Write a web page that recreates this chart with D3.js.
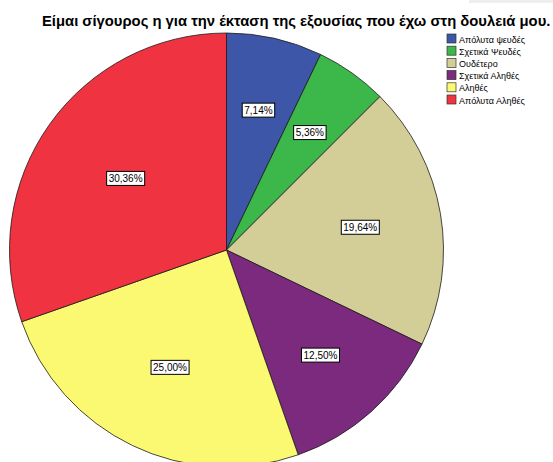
<!DOCTYPE html>
<html>
<head>
<meta charset="utf-8">
<script src="https://cdn.jsdelivr.net/npm/d3@7"></script>
<style>
  html, body { margin: 0; padding: 0; background: #fff; }
  svg { display: block; font-family: "Liberation Sans", Arial, sans-serif; }
</style>
</head>
<body>
<svg id="chart" width="553" height="462"></svg>
<script>
// Response categories and their share of answers (percent)
const categories = ["Απόλυτα ψευδές", "Σχετικά Ψευδές", "Ουδέτερο", "Σχετικά Αληθές", "Αληθές", "Απόλυτα Αληθές"];
const percents = [7.14, 5.36, 19.64, 12.50, 25.00, 30.36];
const colors = ["#3d56a8", "#3cb84b", "#d3ce98", "#7c2a7e", "#fbf872", "#ef3340"];
const title = "Είμαι σίγουρος η για την έκταση της εξουσίας που έχω στη δουλειά μου.";

const svg = d3.select("#chart");
const W = 553, H = 462;

// light strip in the top right corner
svg.append("rect").attr("x", 469).attr("y", 0).attr("width", W - 469).attr("height", 3).attr("fill", "#eeeeee");

// title, sized to run from x=42 to x=551
const titleText = svg.append("text")
  .attr("x", 42).attr("y", 26)
  .attr("text-anchor", "start")
  .attr("font-size", 14).attr("font-weight", "bold")
  .attr("fill", "#000")
  .text(title);
const tw = titleText.node().getComputedTextLength();
titleText.attr("font-size", 14 * 509 / tw);

// pie
const cx = 226.5, cy = 250, R = 217;
const data = categories.map((c, i) => ({ cat: c, value: percents[i], color: colors[i] }));
const pie = d3.pie().value(d => d.value).sort(null);
const arc = d3.arc().innerRadius(0).outerRadius(R);
const arcs = pie(data);

const g = svg.append("g").attr("transform", `translate(${cx},${cy})`);

g.selectAll("path.slice")
  .data(arcs)
  .enter().append("path")
  .attr("class", "slice")
  .attr("d", arc)
  .attr("fill", d => d.data.color)
  .attr("stroke", "#1a1a1a")
  .attr("stroke-width", 0.8)
  .attr("stroke-linejoin", "round");

// labels at each sector's centroid
const loc = d3.formatLocale({ decimal: ",", thousands: ".", grouping: [3], currency: ["", "€"] });
const fmt = loc.format(".2f");

const labels = g.selectAll("g.lab")
  .data(arcs)
  .enter().append("g")
  .attr("class", "lab")
  .attr("transform", d => {
    const half = (d.endAngle - d.startAngle) / 2;
    const dist = (2 * R * Math.sin(half)) / (3 * half);
    const mid = (d.startAngle + d.endAngle) / 2;
    return `translate(${dist * Math.sin(mid)},${-dist * Math.cos(mid)})`;
  });

labels.append("text")
  .attr("text-anchor", "middle")
  .attr("dy", "0.35em")
  .attr("font-size", 10)
  .attr("fill", "#000")
  .text(d => fmt(d.data.value) + "%");

labels.each(function() {
  const t = d3.select(this).select("text").node();
  const bb = t.getBBox();
  d3.select(this).insert("rect", "text")
    .attr("x", bb.x - 2).attr("y", bb.y - 1.5)
    .attr("width", bb.width + 4).attr("height", bb.height + 3)
    .attr("fill", "#fff").attr("stroke", "#000").attr("stroke-width", 1);
});

// legend
const legend = svg.append("g").attr("transform", "translate(447,34)");
const rowH = 12.2;
const items = legend.selectAll("g.item")
  .data(data)
  .enter().append("g")
  .attr("class", "item")
  .attr("transform", (d, i) => `translate(0,${i * rowH})`);

items.append("rect")
  .attr("x", 0).attr("y", 0).attr("width", 9).attr("height", 9)
  .attr("fill", d => d.color)
  .attr("stroke", "#333").attr("stroke-width", 0.7);

items.append("text")
  .attr("x", 12).attr("y", 8.5)
  .attr("font-size", 9)
  .attr("fill", "#000")
  .text(d => d.cat);
</script>
</body>
</html>
